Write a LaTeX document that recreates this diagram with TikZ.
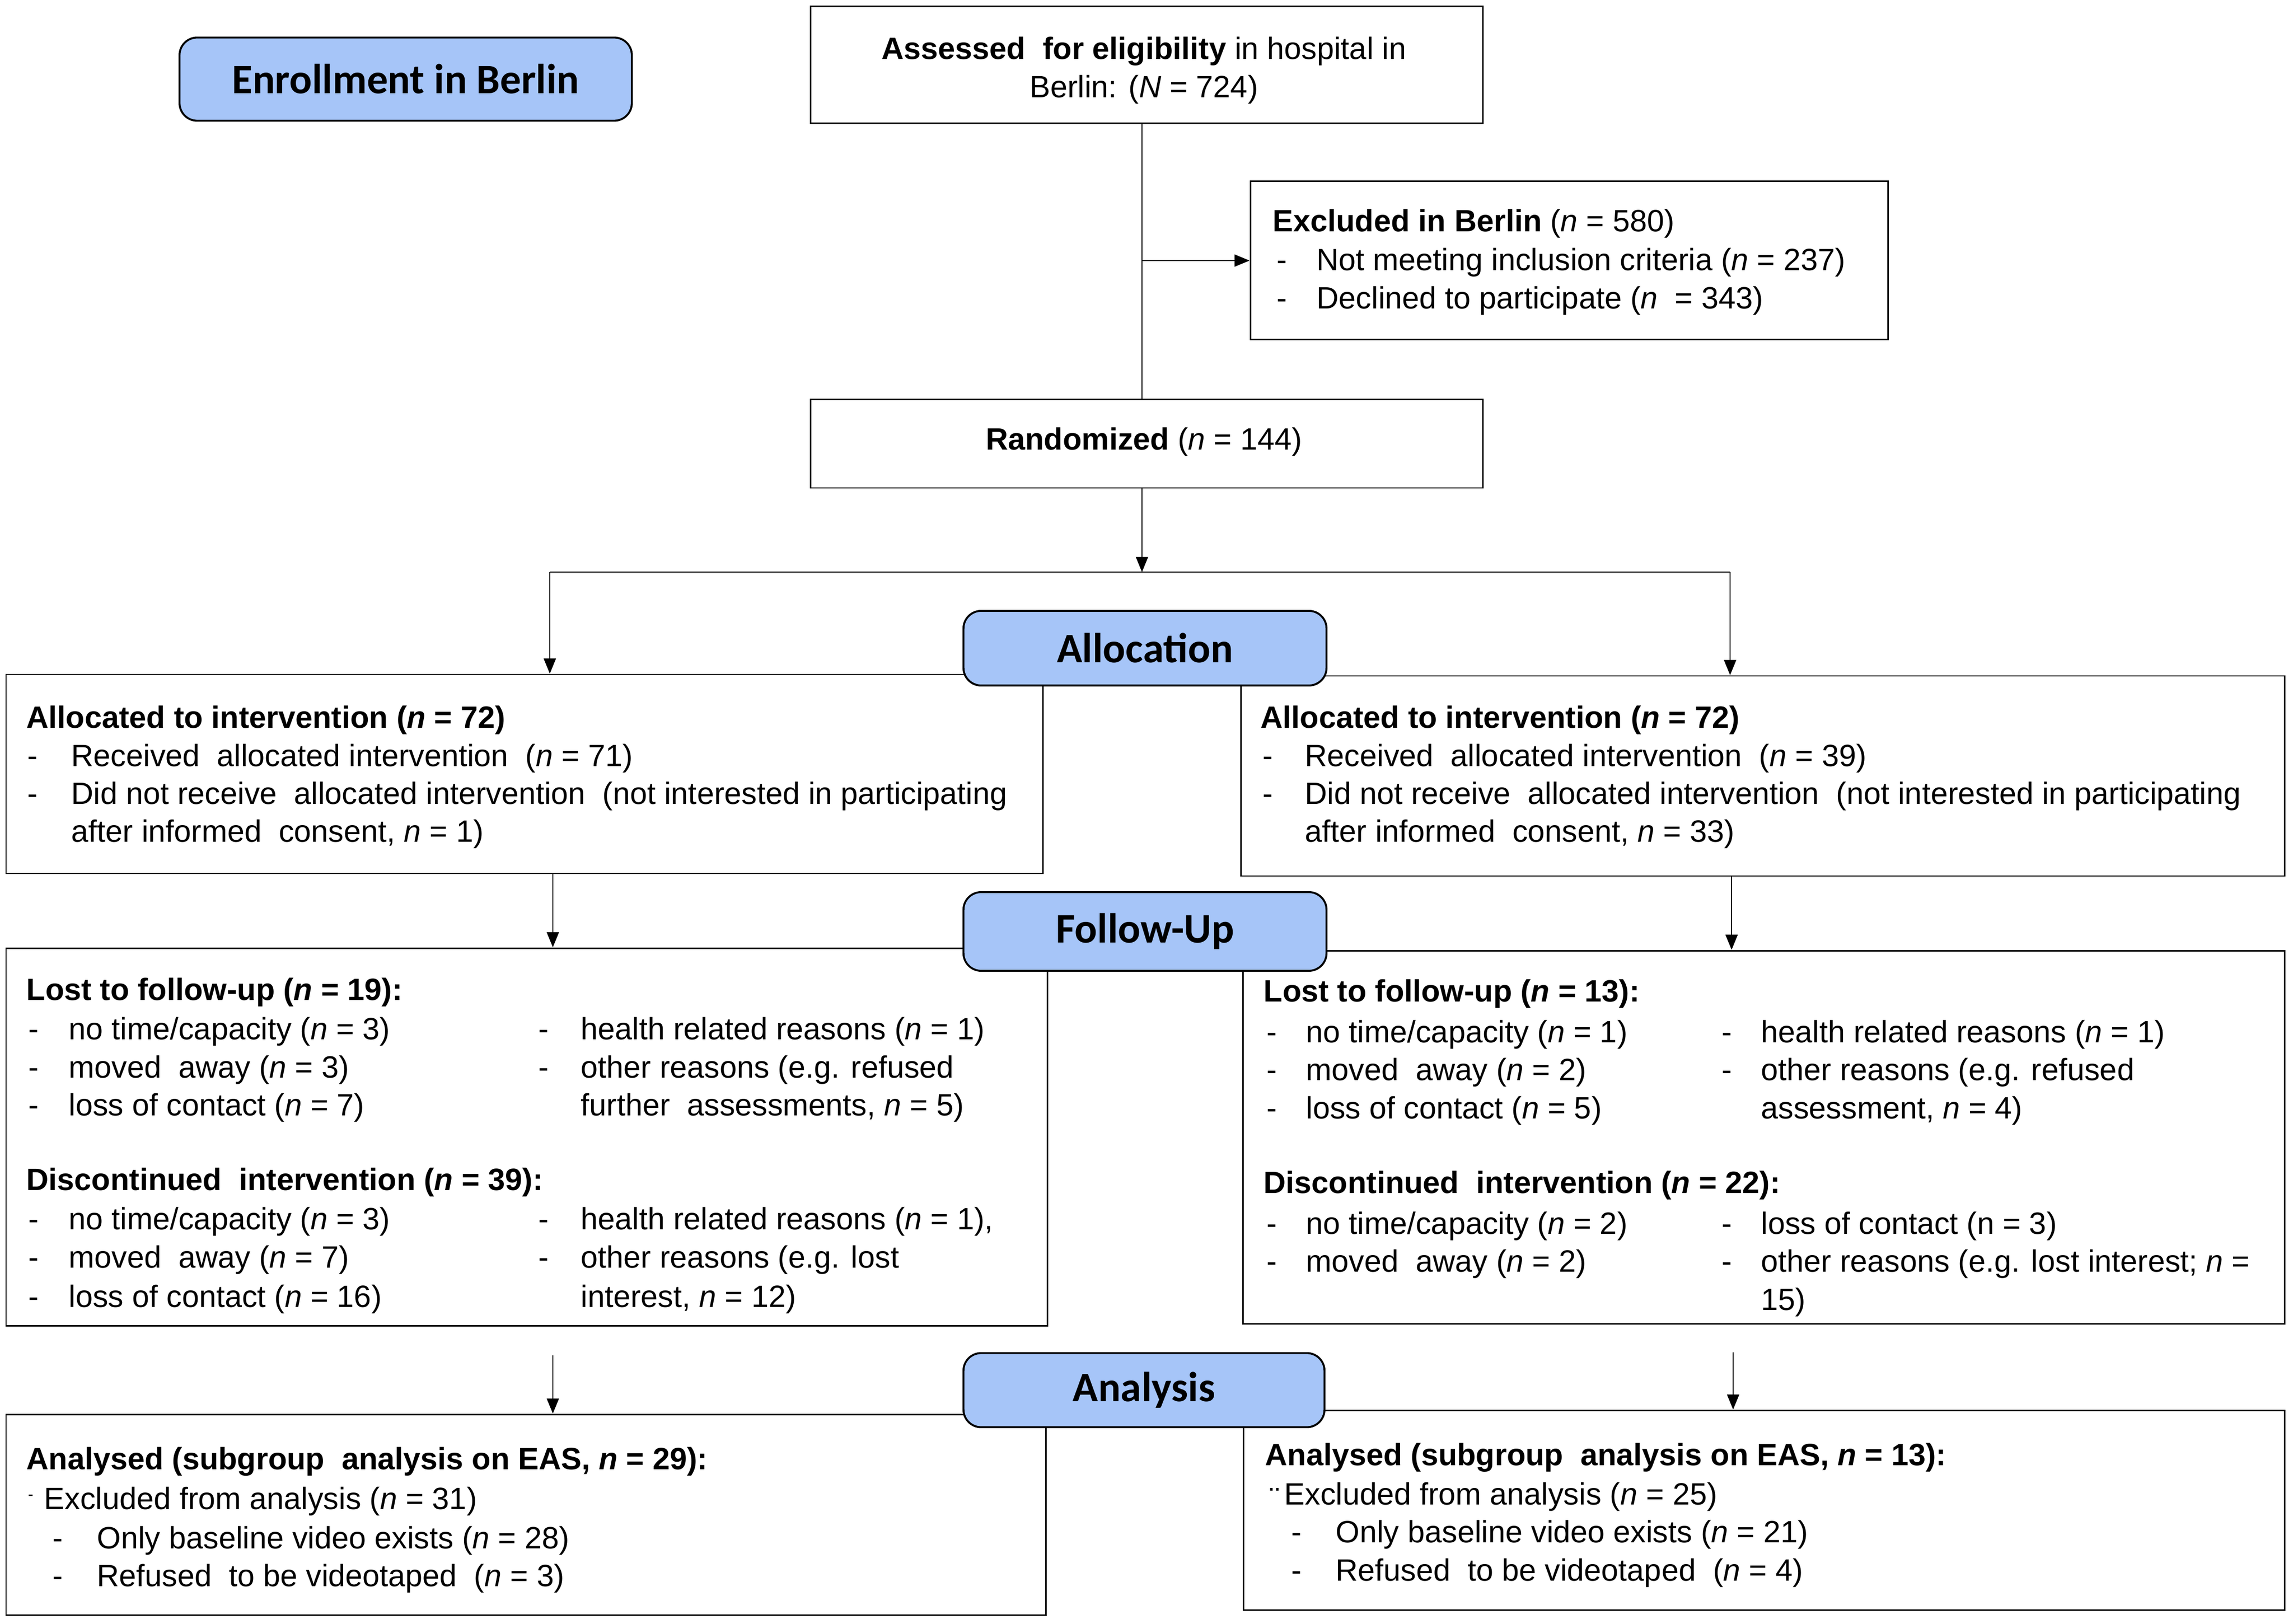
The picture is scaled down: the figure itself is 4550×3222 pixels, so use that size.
\documentclass[tikz,border=0pt]{standalone}
\usepackage{fontspec}
\setmainfont{Liberation Sans}
\newfontfamily\phasefamily{Carlito}
\usetikzlibrary{arrows.meta,fit}
\definecolor{phaseblue}{RGB}{166,197,248}
\newcommand{\bodyfont}{\fontsize{17.4pt}{21.5pt}\selectfont}
\newcommand{\phasefont}{\phasefamily\bfseries\fontsize{23.7pt}{28pt}\selectfont}
\newcommand{\dsh}[1]{\makebox[#1][l]{-}}
\newcommand{\nn}{\textit{n}}
\begin{document}
\begin{tikzpicture}[x=0.01cm,y=-0.01cm,
  box/.style={draw=black,line width=0.85pt,fill=white,inner sep=0pt},
  phase/.style={draw=black,line width=1.1pt,fill=phaseblue,rounded corners=0.35cm,inner sep=0pt,font=\phasefont,anchor=center},
  txt/.style={anchor=base west,inner sep=0pt,font=\bodyfont},
  ctxt/.style={anchor=base,inner sep=0pt,font=\bodyfont},
  conn/.style={draw=black,line width=0.7pt},
  arr/.style={conn,-{Triangle[length=3mm,width=2.4mm]}}]
\useasboundingbox (0,0) rectangle (4550,3222);

% coordinates for connectors
\coordinate (vx) at (2266,0);
\coordinate (split) at (2266,1135);
\coordinate (sl) at (1091,1135);
\coordinate (sr) at (3433,1135);
\coordinate (c1) at (1097,0);
\coordinate (c2) at (3436,0);
\coordinate (a1) at (1097,2689);
\coordinate (a2) at (3439,2683);

% boxes
\node[box,fit={(1608,13) (2942,245)}] (assess) {};
\node[box,fit={(2481,360) (3746,674)}] (excl) {};
\node[box,fit={(1608,793) (2942,968)}] (rand) {};
\node[box,fit={(12,1338) (2069,1733)}] (allocL) {};
\node[box,fit={(2462,1341) (4533,1738)}] (allocR) {};
\node[box,fit={(12,1881) (2078,2630)}] (fuL) {};
\node[box,fit={(2466,1886) (4533,2626)}] (fuR) {};
\node[box,fit={(12,2806) (2075,3204)}] (anL) {};
\node[box,fit={(2467,2798) (4533,3194)}] (anR) {};

% connectors
\draw[conn] (assess.south -| vx) -- (rand.north -| vx);
\draw[arr] (excl.west -| vx) -- (excl.west);
\draw[arr] (rand.south -| vx) -- (split);
\draw[conn] (sl) -- (sr);
\draw[arr] (sl) -- (sl |- allocL.north);
\draw[arr] (sr) -- (sr |- allocR.north);
\draw[arr] (allocL.south -| c1) -- (fuL.north -| c1);
\draw[arr] (allocR.south -| c2) -- (fuR.north -| c2);
\draw[arr] (a1) -- (a1 |- anL.north);
\draw[arr] (a2) -- (a2 |- anR.north);

% phase labels
\node[phase,minimum width=8.97cm,minimum height=1.65cm] (enroll) at (805,157) {Enrollment in Berlin};
\node[phase,minimum width=7.2cm,minimum height=1.48cm] (alloc) at (2272,1286) {Allocation};
\node[phase,minimum width=7.2cm,minimum height=1.56cm] (follow) at (2272,1848) {Follow-Up};
\node[phase,minimum width=7.16cm,minimum height=1.47cm] (analysis) at (2270,2758) {Analysis};

% enrollment texts
\node[ctxt] (as1) at (2270,118) {\textbf{Assessed\ \ for eligibility} in hospital in};
\node[ctxt] (as2) at (2270,194) {Berlin: (\textit{N} = 724)};
\node[txt] (ex1) at (2525,460) {\textbf{Excluded in Berlin} (\nn{} = 580)};
\node[txt] (ex2) at (2533,537) {\dsh{7.9mm}Not meeting inclusion criteria (\nn{} = 237)};
\node[txt] (ex3) at (2533,613) {\dsh{7.9mm}Declined to participate (\nn{}\ \ = 343)};
\node[ctxt] (ra1) at (2270,893) {\textbf{Randomized} (\nn{} = 144)};

% allocation left
\node[txt] (al1) at (52,1444) {\textbf{Allocated to intervention (\textit{n} = 72)}};
\node[txt] (al2) at (54,1520) {\dsh{8.7mm}Received\ \ allocated intervention\ \ (\nn{} = 71)};
\node[txt] (al3) at (54,1595) {\dsh{8.7mm}Did not receive\ \ allocated intervention\ \ (not interested in participating};
\node[txt] (al4) at (141,1670) {after informed\ \ consent, \nn{} = 1)};
% allocation right
\node[txt] (ar1) at (2501,1444) {\textbf{Allocated to intervention (\textit{n} = 72)}};
\node[txt] (ar2) at (2505,1520) {\dsh{8.4mm}Received\ \ allocated intervention\ \ (\nn{} = 39)};
\node[txt] (ar3) at (2505,1595) {\dsh{8.4mm}Did not receive\ \ allocated intervention\ \ (not interested in participating};
\node[txt] (ar4) at (2589,1670) {after informed\ \ consent, \nn{} = 33)};

% follow-up left
\node[txt] (fl1) at (52,1984) {\textbf{Lost to follow-up (\textit{n} = 19):}};
\node[txt] (fl2) at (56,2062) {\dsh{8.0mm}no time/capacity (\nn{} = 3)};
\node[txt] (fl3) at (56,2138) {\dsh{8.0mm}moved\ \ away (\nn{} = 3)};
\node[txt] (fl4) at (56,2213) {\dsh{8.0mm}loss of contact (\nn{} = 7)};
\node[txt] (fl5) at (1068,2062) {\dsh{8.4mm}health related reasons (\nn{} = 1)};
\node[txt] (fl6) at (1068,2138) {\dsh{8.4mm}other reasons (e.g. refused};
\node[txt] (fl7) at (1152,2213) {further\ \ assessments, \nn{} = 5)};
\node[txt] (fl8) at (52,2361) {\textbf{Discontinued\ \ intervention (\textit{n} = 39):}};
\node[txt] (fl9) at (56,2439) {\dsh{8.0mm}no time/capacity (\nn{} = 3)};
\node[txt] (fl10) at (56,2515) {\dsh{8.0mm}moved\ \ away (\nn{} = 7)};
\node[txt] (fl11) at (56,2593) {\dsh{8.0mm}loss of contact (\nn{} = 16)};
\node[txt] (fl12) at (1068,2439) {\dsh{8.4mm}health related reasons (\nn{} = 1),};
\node[txt] (fl13) at (1068,2515) {\dsh{8.4mm}other reasons (e.g. lost};
\node[txt] (fl14) at (1152,2593) {interest, \nn{} = 12)};

% follow-up right
\node[txt] (fr1) at (2507,1987) {\textbf{Lost to follow-up (\textit{n} = 13):}};
\node[txt] (fr2) at (2513,2068) {\dsh{7.8mm}no time/capacity (\nn{} = 1)};
\node[txt] (fr3) at (2513,2143) {\dsh{7.8mm}moved\ \ away (\nn{} = 2)};
\node[txt] (fr4) at (2513,2219) {\dsh{7.8mm}loss of contact (\nn{} = 5)};
\node[txt] (fr5) at (3416,2068) {\dsh{7.8mm}health related reasons (\nn{} = 1)};
\node[txt] (fr6) at (3416,2143) {\dsh{7.8mm}other reasons (e.g. refused};
\node[txt] (fr7) at (3494,2219) {assessment, \nn{} = 4)};
\node[txt] (fr8) at (2507,2367) {\textbf{Discontinued\ \ intervention (\textit{n} = 22):}};
\node[txt] (fr9) at (2513,2448) {\dsh{7.8mm}no time/capacity (\nn{} = 2)};
\node[txt] (fr10) at (2513,2523) {\dsh{7.8mm}moved\ \ away (\nn{} = 2)};
\node[txt] (fr11) at (3416,2448) {\dsh{7.8mm}loss of contact (n = 3)};
\node[txt] (fr12) at (3416,2523) {\dsh{7.8mm}other reasons (e.g. lost interest; \nn{} =};
\node[txt] (fr13) at (3494,2599) {15)};

% analysis left
\node[txt] (nl1) at (52,2915) {\textbf{Analysed (subgroup\ \ analysis on EAS, \textit{n} = 29):}};
\node[txt] (nl2) at (55,2994) {\makebox[3.2mm][l]{\raisebox{0.3em}{\small -}}Excluded from analysis (\nn{} = 31)};
\node[txt] (nl3) at (104,3072) {\dsh{8.8mm}Only baseline video exists (\nn{} = 28)};
\node[txt] (nl4) at (104,3147) {\dsh{8.8mm}Refused\ \ to be videotaped\ \ (\nn{} = 3)};
% analysis right
\node[txt] (nr1) at (2510,2907) {\textbf{Analysed (subgroup\ \ analysis on EAS, \textit{n} = 13):}};
\node[txt] (nr2) at (2519,2985) {\makebox[2.9mm][l]{\raisebox{-0.15em}{¨}}Excluded from analysis (\nn{} = 25)};
\node[txt] (nr3) at (2562,3060) {\dsh{8.8mm}Only baseline video exists (\nn{} = 21)};
\node[txt] (nr4) at (2562,3136) {\dsh{8.8mm}Refused\ \ to be videotaped\ \ (\nn{} = 4)};
\end{tikzpicture}
\end{document}
